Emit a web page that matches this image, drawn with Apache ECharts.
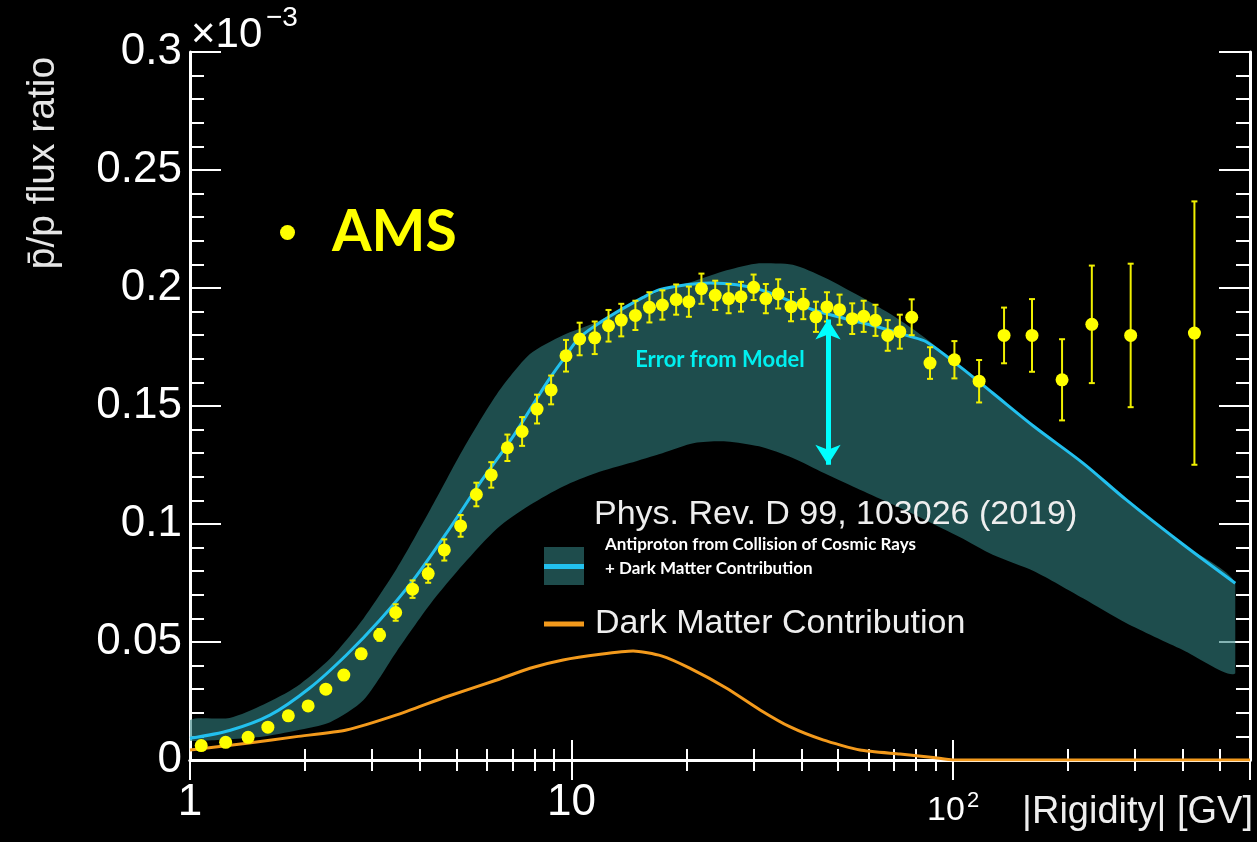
<!DOCTYPE html>
<html>
<head>
<meta charset="utf-8">
<title>pbar/p flux ratio</title>
<script src="https://cdn.jsdelivr.net/npm/echarts@6.0.0/dist/echarts.min.js"></script>
<style>
  html, body { margin: 0; padding: 0; background: #000; }
  #chart { width: 1257px; height: 842px; }
</style>
</head>
<body>
<div id="chart"></div>
<script>
// AMS points (rigidity in GV, ratio in units of 1e-3) and half error bars
const amsR = [1.07, 1.24, 1.42, 1.6, 1.81, 2.04, 2.27, 2.53, 2.81, 3.14, 3.46, 3.83, 4.21, 4.64, 5.12, 5.63, 6.16, 6.79, 7.42, 8.12,
  8.84, 9.67, 10.5, 11.5, 12.5, 13.5, 14.7, 16.0, 17.3, 18.8, 20.3, 21.9, 23.8, 25.8, 27.8, 30.0, 32.3, 34.8, 37.6, 40.5,
  43.7, 46.7, 50.4, 54.4, 58.3, 62.6, 67.4, 72.5, 77.9, 87.0, 100.8, 117, 136, 161, 193, 231, 292, 429];
const amsV = [0.0061, 0.0075, 0.0096, 0.0139, 0.0187, 0.0229, 0.03, 0.036, 0.045, 0.053, 0.0625, 0.0724, 0.079, 0.089, 0.0992, 0.1125, 0.1208, 0.1323, 0.1392, 0.1487,
  0.1568, 0.1713, 0.1784, 0.1789, 0.184, 0.1864, 0.1884, 0.1918, 0.1928, 0.1951, 0.1942, 0.1997, 0.1969, 0.1955, 0.1963, 0.2003, 0.1955, 0.1975, 0.1921, 0.1932,
  0.1878, 0.192, 0.1908, 0.187, 0.188, 0.1863, 0.1799, 0.1815, 0.1876, 0.1682, 0.1696, 0.1605, 0.1799, 0.1799, 0.1611, 0.1846, 0.1799, 0.1809];
const amsErr = [0.0008, 0.0008, 0.0009, 0.0012, 0.0013, 0.0016, 0.0017, 0.002, 0.0021, 0.0025, 0.0035, 0.0037, 0.0039, 0.0045, 0.0046, 0.005, 0.0054, 0.0056, 0.0061, 0.0061,
  0.0061, 0.0067, 0.0069, 0.0069, 0.0067, 0.0069, 0.0062, 0.0064, 0.0062, 0.0064, 0.0064, 0.0064, 0.0062, 0.0062, 0.0063, 0.0054, 0.0062, 0.0062, 0.0062, 0.0064,
  0.0064, 0.0062, 0.0064, 0.0065, 0.0066, 0.0066, 0.0065, 0.0072, 0.0076, 0.0067, 0.0079, 0.009, 0.0118, 0.0154, 0.0172, 0.0249, 0.0304, 0.0558];

// model band (cosmic ray collisions + dark matter)
const bandR = [1, 1.27, 1.56, 1.9, 2.33, 2.85, 3.48, 4.26, 5.21, 6.37, 7.78, 9.5, 11.6, 14.2, 17.3, 21, 25.5, 31, 38, 46, 57, 70, 85, 104, 127, 163, 219, 284, 400, 549];
const bandHigh = [0.017, 0.0178, 0.0235, 0.031, 0.043, 0.06, 0.081, 0.106, 0.132, 0.155, 0.172, 0.18, 0.1855, 0.193, 0.199, 0.203, 0.2075, 0.2105, 0.2099, 0.2045,
  0.1965, 0.188, 0.1785, 0.1668, 0.1555, 0.1413, 0.1258, 0.1103, 0.0914, 0.0749];
const bandLow = [0.008, 0.0088, 0.010, 0.0125, 0.016, 0.0254, 0.046, 0.066, 0.083, 0.098, 0.108, 0.1159, 0.1216, 0.1258, 0.130, 0.1343, 0.135, 0.1329, 0.128, 0.1215,
  0.1145, 0.108, 0.1015, 0.0945, 0.087, 0.08, 0.0685, 0.058, 0.0466, 0.0368];

// central model curve
const modelR = [1, 1.27, 1.62, 2.06, 2.57, 3.15, 3.85, 4.7, 5.75, 7.03, 8.6, 9.5, 10.5, 12.6, 15.4, 17, 20, 23.1, 27.1, 31.2, 36.6, 42.9, 51.4, 63, 77.1, 85,
  104, 127, 163, 219, 284, 400, 549];
const modelV = [0.0092, 0.0125, 0.019, 0.0305, 0.0445, 0.0594, 0.0763, 0.0961, 0.1173, 0.1371, 0.1597, 0.1696, 0.179, 0.188, 0.196, 0.1993, 0.2014, 0.2021, 0.2014, 0.1993,
  0.1951, 0.1908, 0.1873, 0.1837, 0.1795, 0.1772, 0.1668, 0.1555, 0.1413, 0.1258, 0.1103, 0.0914, 0.0749];

// dark matter contribution
const dmR = [1, 1.41, 1.9, 2.57, 3.48, 4.7, 6.37, 7.78, 9.5, 11.9, 14.5, 17.2, 20.4, 25.5, 31.2, 37.3, 45.6, 57, 72.6, 88.6, 100, 600];
const dmV = [0.0042, 0.0071, 0.0099, 0.0127, 0.0191, 0.0268, 0.0339, 0.0389, 0.0424, 0.0448, 0.0462, 0.0441, 0.0389, 0.0304, 0.0212, 0.0141, 0.0085, 0.0042, 0.0025, 0.0011, 0, 0];

// arrow "Error from Model"
const arrowR = 47;
const arrowV = [0.1866, 0.1251];

const yTicks = { min: 0, max: 0.3, interval: 0.05 };

const chart = echarts.init(document.getElementById('chart'), null, { renderer: 'canvas' });

const white = '#ffffff';
const axisLine = { lineStyle: { color: white, width: 3 } };
const majorX = { inside: true, length: 20, lineStyle: { color: white, width: 2 } };
const minorX = { show: true, splitNumber: 9, length: 11, lineStyle: { color: white, width: 2 } };
const majorY = { inside: true, length: 31, lineStyle: { color: white, width: 2 } };
const minorY = { show: true, splitNumber: 5, length: 14, lineStyle: { color: white, width: 2 } };

function isDecade(v) {
  const l = Math.log10(v);
  return Math.abs(l - Math.round(l)) < 1e-6;
}

const option = {
  backgroundColor: '#000',
  animation: false,
  textStyle: { fontFamily: 'Liberation Sans' },
  grid: { left: 190, right: 7, top: 52, bottom: 82, containLabel: false },
  legend: [
    {
      data: ['AMS'],
      left: 275,
      top: 199,
      icon: 'circle',
      itemWidth: 15,
      itemHeight: 15,
      selectedMode: false,
      textStyle: { color: '#ffff00', fontSize: 57, fontWeight: 'bold', fontFamily: 'Lato', padding: [0, 0, 0, 32] }
    },
    {
      data: ['Dark Matter Contribution'],
      left: 539,
      top: 602,
      icon: 'rect',
      itemWidth: 40,
      itemHeight: 5,
      selectedMode: false,
      textStyle: { color: '#eeeeee', fontSize: 34, padding: [0, 0, 0, 6] }
    }
  ],
  xAxis: [
    {
      type: 'log', logBase: 10, min: 1, max: 600, position: 'bottom',
      axisLine: axisLine, axisTick: majorX, minorTick: minorX,
      splitLine: { show: false }, minorSplitLine: { show: false },
      axisLabel: {
        color: white, margin: 21,
        formatter: function (v) {
          if (!isDecade(v)) return '';
          const e = Math.round(Math.log10(v));
          if (e === 0) return '{big|1}';
          if (e === 1) return '{big|10}';
          return '{a|10}{s|' + e + '}';
        },
        rich: {
          big: { color: white, fontSize: 44 },
          a: { color: white, fontSize: 34, padding: [13, 0, 0, 0] },
          s: { color: white, fontSize: 22, verticalAlign: 'top', padding: [9, 0, 0, 2] }
        }
      }
    },
    {
      type: 'log', logBase: 10, min: 1, max: 600, position: 'top',
      axisLine: axisLine, axisTick: majorX, minorTick: minorX,
      splitLine: { show: false }, minorSplitLine: { show: false },
      axisLabel: { show: false }
    }
  ],
  yAxis: [
    {
      type: 'value', min: yTicks.min, max: yTicks.max, interval: yTicks.interval, position: 'left',
      axisLine: axisLine, axisTick: majorY, minorTick: minorY,
      splitLine: { show: false },
      axisLabel: { color: white, fontSize: 44, margin: 8 }
    },
    {
      type: 'value', min: yTicks.min, max: yTicks.max, interval: yTicks.interval, position: 'right',
      axisLine: axisLine, axisTick: majorY, minorTick: minorY,
      splitLine: { show: false },
      axisLabel: { show: false }
    }
  ],
  series: [
    {
      // band drawn as one polygon: upper edge forward, lower edge back
      name: 'band', type: 'custom', z: 1, clip: true,
      data: bandR.map((r, i) => [r, bandLow[i], bandHigh[i]]),
      encode: { x: 0, y: [1, 2] },
      renderItem: function (params, api) {
        if (params.dataIndexInside !== 0) return;
        const n = params.dataInsideLength;
        const up = [];
        const lo = [];
        for (let i = 0; i < n; i++) {
          const r = api.value(0, i);
          up.push(api.coord([r, api.value(2, i)]));
          lo.push(api.coord([r, api.value(1, i)]));
        }
        const pts = up.concat(lo.reverse());
        let x0 = Infinity, x1 = -Infinity, y0 = Infinity, y1 = -Infinity;
        pts.forEach(p => {
          x0 = Math.min(x0, p[0]); x1 = Math.max(x1, p[0]);
          y0 = Math.min(y0, p[1]); y1 = Math.max(y1, p[1]);
        });
        return {
          type: 'polygon',
          shape: { points: pts, smooth: 0.25, smoothConstraint: [[x0, y0], [x1, y1]] },
          style: { fill: 'rgba(50,128,128,0.6)' }
        };
      }
    },
    {
      name: 'model', type: 'line', smooth: 0.3, symbol: 'none', z: 3,
      lineStyle: { color: '#22c0ee', width: 3 },
      data: modelR.map((r, i) => [r, modelV[i]]),
      markLine: {
        silent: true,
        symbol: ['arrow', 'arrow'],
        symbolSize: [19, 20],
        label: { show: false },
        lineStyle: { color: '#00ffff', width: 5, type: 'solid' },
        data: [[{ coord: [arrowR, arrowV[0]] }, { coord: [arrowR, arrowV[1]] }]]
      }
    },
    {
      name: 'Dark Matter Contribution', type: 'line', smooth: 0.2, symbol: 'none', z: 3,
      color: '#f39a1c',
      lineStyle: { color: '#f39a1c', width: 3 },
      data: dmR.map((r, i) => [r, dmV[i]])
    },
    {
      name: 'AMS err', type: 'custom', z: 4,
      data: amsR.map((r, i) => [r, amsV[i] - amsErr[i], amsV[i] + amsErr[i]]),
      encode: { x: 0, y: [1, 2] },
      renderItem: function (params, api) {
        const lo = api.coord([api.value(0), api.value(1)]);
        const hi = api.coord([api.value(0), api.value(2)]);
        const st = { stroke: '#f0f000', lineWidth: 2 };
        return {
          type: 'group',
          children: [
            { type: 'line', shape: { x1: lo[0], y1: lo[1], x2: hi[0], y2: hi[1] }, style: st },
            { type: 'line', shape: { x1: lo[0] - 3, y1: lo[1], x2: lo[0] + 3, y2: lo[1] }, style: st },
            { type: 'line', shape: { x1: hi[0] - 3, y1: hi[1], x2: hi[0] + 3, y2: hi[1] }, style: st }
          ]
        };
      }
    },
    {
      name: 'AMS', type: 'scatter', symbol: 'circle', symbolSize: 13, z: 5,
      color: '#ffff00',
      itemStyle: { color: '#ffff00', opacity: 1 },
      data: amsR.map((r, i) => [r, amsV[i]])
    }
  ],
  graphic: [
    {
      type: 'text', x: 191, y: 35, z: 100,
      style: { text: '×10', fill: white, font: '42px "Liberation Sans"', align: 'left', verticalAlign: 'middle' }
    },
    {
      type: 'text', x: 266, y: 18, z: 100,
      style: { text: '−3', fill: white, font: '28px "Liberation Sans"', align: 'left', verticalAlign: 'middle' }
    },
    {
      type: 'text', x: 43, y: 163, rotation: Math.PI / 2, z: 100,
      style: { text: 'p\u0304/p flux ratio', fill: '#e6e6e6', font: '39px "Liberation Sans"', align: 'center', verticalAlign: 'middle' }
    },
    {
      type: 'text', x: 1253, y: 813, z: 100,
      style: { text: '|Rigidity| [GV]', fill: '#eeeeee', font: '38px "Liberation Sans"', align: 'right', verticalAlign: 'middle' }
    },
    {
      type: 'text', x: 594, y: 515, z: 100,
      style: { text: 'Phys. Rev. D 99, 103026 (2019)', fill: '#eeeeee', font: '34px "Liberation Sans"', align: 'left', verticalAlign: 'middle' }
    },
    { type: 'rect', z: 100, shape: { x: 544, y: 547, width: 40, height: 38 }, style: { fill: '#1e4c4c' } },
    { type: 'rect', z: 101, shape: { x: 544, y: 564, width: 40, height: 5 }, style: { fill: '#22c0ee' } },
    {
      type: 'text', x: 605, y: 545, z: 100,
      style: { text: 'Antiproton from Collision of Cosmic Rays', fill: '#ffffff', font: 'bold 17px Lato', align: 'left', verticalAlign: 'middle' }
    },
    {
      type: 'text', x: 605, y: 569, z: 100,
      style: { text: '+ Dark Matter Contribution', fill: '#ffffff', font: 'bold 17px Lato', align: 'left', verticalAlign: 'middle' }
    },
    {
      type: 'text', x: 720, y: 360, z: 100,
      style: { text: 'Error from Model', fill: '#00f0f0', font: 'bold 22px Lato', align: 'center', verticalAlign: 'middle' }
    }
  ]
};

chart.setOption(option);
</script>
</body>
</html>
